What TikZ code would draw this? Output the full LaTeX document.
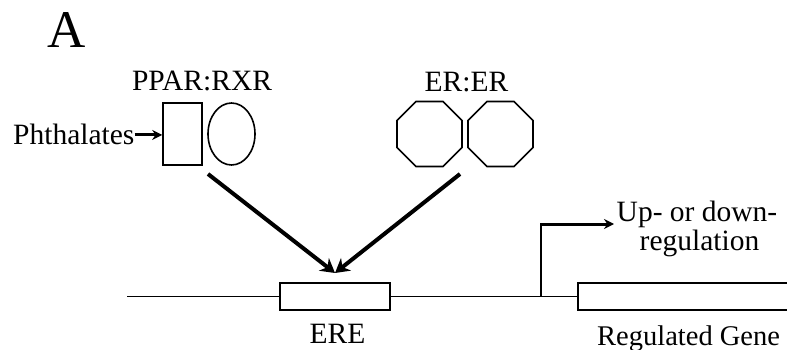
\documentclass[tikz,border=0pt]{standalone}
\usepackage{fontspec}
\setmainfont{Liberation Serif}
\usetikzlibrary{shapes.geometric,arrows.meta}
\tikzset{
  lbl/.style={inner sep=0pt, anchor=base, font=\fontsize{29.5}{34}\selectfont},
  shp/.style={draw, line width=1.6pt, inner sep=0pt},
  thinline/.style={line width=1.6pt},
  bigarrow/.style={line width=4pt, -{Stealth[length=14pt,width=16pt]}},
  midarrow/.style={line width=3pt, -{Stealth[length=10pt,width=10pt]}},
}
\begin{document}
\begin{tikzpicture}[x=1pt,y=-1pt]
\useasboundingbox (0,0) rectangle (787,350);
\clip (0,0) rectangle (787,350);
\fill[white] (0,0) rectangle (787,350);
% title
\node[inner sep=0pt, anchor=base, font=\fontsize{53}{60}\selectfont] (A) at (67,48) {A};
% receptors
\node[lbl] (pparlbl) at (202,91) {PPAR:RXR};
\node[shp, rectangle, minimum width=39pt, minimum height=62pt] (ppar) at (182.5,134) {};
\node[shp, ellipse, minimum width=47pt, minimum height=62pt] (rxr) at (231.5,134) {};
\node[lbl, anchor=base west] (phth) at (13,145) {Phthalates};
\node[lbl] (erlbl) at (466.5,92) {ER:ER};
\node[shp, regular polygon, regular polygon sides=8, minimum size=70.4pt] (er1) at (429.5,134) {};
\node[shp, regular polygon, regular polygon sides=8, minimum size=70.4pt] (er2) at (500.5,134) {};
% DNA
\coordinate (dnaL) at (127,296.5);
\coordinate (branch) at (541,296.5);
\coordinate (turn) at (541,224);
\coordinate (upend) at (614,224);
\node[shp, rectangle, minimum width=110pt, minimum height=27pt] (ere) at (335,296.5) {};
\node[shp, rectangle, minimum width=222pt, minimum height=27pt] (gene) at (689,296.5) {};
\draw[thinline] (dnaL) -- (ere.west);
\draw[thinline] (ere.east) -- (gene.west);
\draw[thinline] (branch) -- ([yshift=1.5pt]turn);
\draw[midarrow] ([xshift=-0.8pt]turn) -- (upend);
% labels
\node[lbl] (erelbl) at (337.5,343) {ERE};
\node[lbl, anchor=base west, font=\fontsize{28.5}{34}\selectfont] (genelbl) at (597,345) {Regulated Gene};
\node[lbl] (up1) at (697,221) {Up- or down-};
\node[lbl] (up2) at (699.5,250) {regulation};
% arrows
\coordinate (vL) at (208,174);
\coordinate (vR) at (460,174);
\coordinate (vtip) at (335,273);
\draw[bigarrow] (vL) -- (vtip);
\draw[bigarrow] (vR) -- (vtip);
\draw[midarrow] (phth.east) -- (ppar.west |- phth.east);
\end{tikzpicture}
\end{document}
